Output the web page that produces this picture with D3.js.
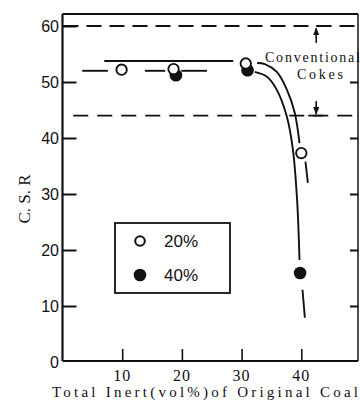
<!DOCTYPE html>
<html><head><meta charset="utf-8">
<script src="https://cdn.jsdelivr.net/npm/d3@7"></script>
<style>html,body{margin:0;padding:0;background:#fff;}svg{display:block;}</style>
</head><body>
<svg id="c" width="360" height="403"></svg>
<script>
// ---- data ----
const seriesNames = ["20%", "40%"];
const pts20 = [[9.9, 52.2], [18.6, 52.3], [30.7, 53.3], [40.0, 37.3]];
const pts40 = [[19.0, 51.2], [31.0, 52.1], [39.8, 15.9]];
// curve through 20% points (segments, gaps at markers)
const curve20 = [
  [[7.0, 53.75], [28.6, 53.75]],
  [[32.6, 53.4], [33.9, 53.2], [35.9, 51.8], [37.6, 48.6], [38.9, 44.5], [39.7, 39.1]],
  [[40.7, 35.8], [41.1, 32.0]]
];
// curve through 40% points
const curve40 = [
  [[3.3, 52.0], [7.6, 52.0]],
  [[13.8, 52.0], [17.2, 52.0]],
  [[19.9, 52.0], [24.2, 52.0]],
  [[32.2, 51.8], [34.3, 50.9], [35.9, 48.6], [37.6, 43.75], [38.6, 37.9], [39.3, 28.9], [39.7, 18.2]],
  [[40.2, 12.9], [40.6, 7.9]]
];
const conventionalBand = [44, 60];
const xTicks = [10, 20, 30, 40];
const yTicks = [0, 10, 20, 30, 40, 50, 60];
const yLabel = "C. S. R";
const xLabel = "Total  Inert(vol%)of Original Coal";
const annot = ["Conventional", "Cokes"];

// ---- layout ----
const svg = d3.select("#c");
const X0 = 62.5, X1 = 358, Y0 = 361, Y1 = 14;
const x = d3.scaleLinear().domain([0, 49.5]).range([X0, X1]);
const y = d3.scaleLinear().domain([0, 60]).range([362, 26]);
const ink = "#111";

// frame
svg.append("line").attr("x1", X0).attr("x2", X0).attr("y1", Y1).attr("y2", Y0).attr("stroke", ink).attr("stroke-width", 2.2);
svg.append("line").attr("x1", X0).attr("x2", X1).attr("y1", Y0).attr("y2", Y0).attr("stroke", ink).attr("stroke-width", 1.8);
svg.append("line").attr("x1", X0).attr("x2", X1).attr("y1", Y1).attr("y2", Y1).attr("stroke", ink).attr("stroke-width", 1.8);
svg.append("line").attr("x1", X1).attr("x2", X1).attr("y1", Y1).attr("y2", Y0).attr("stroke", ink).attr("stroke-width", 1.5);

// left axis
const yAx = svg.append("g").attr("transform", `translate(${X0},0)`)
  .call(d3.axisRight(y).tickValues(yTicks.filter(d => d > 0)).tickSize(14).tickFormat(""));
yAx.select(".domain").remove();
yAx.selectAll("line").attr("stroke", ink).attr("stroke-width", 2);
svg.append("g").selectAll("text").data(yTicks).join("text")
  .attr("x", 59).attr("y", d => y(d)).attr("dy", "0.36em")
  .attr("text-anchor", "end").attr("font-family", "Liberation Sans, Arial, sans-serif")
  .attr("font-size", 16).attr("fill", ink).text(d => d);

// right axis ticks
const yAxR = svg.append("g").attr("transform", `translate(${X1},0)`)
  .call(d3.axisLeft(y).tickValues([10, 20, 30, 40, 50]).tickSize(8).tickFormat(""));
yAxR.select(".domain").remove();
yAxR.selectAll("line").attr("stroke", ink).attr("stroke-width", 2);

// bottom axis ticks (pointing up)
const xAx = svg.append("g").attr("transform", `translate(0,${Y0})`)
  .call(d3.axisTop(x).tickValues(xTicks).tickSize(12).tickFormat(""));
xAx.select(".domain").remove();
xAx.selectAll("line").attr("stroke", ink).attr("stroke-width", 1.6);
svg.append("g").selectAll("text").data(xTicks).join("text")
  .attr("x", d => x(d)).attr("y", 381).attr("text-anchor", "middle")
  .attr("font-family", "Liberation Serif, Times New Roman, serif")
  .attr("font-size", 16).attr("letter-spacing", 1).attr("fill", ink).text(d => d);

// axis labels
svg.append("text").attr("transform", "translate(30,199) rotate(-90)")
  .attr("text-anchor", "middle").attr("font-family", "Liberation Serif, serif")
  .attr("font-size", 17).attr("fill", ink).text(yLabel);
svg.append("text").attr("x", 52).attr("y", 397)
  .attr("font-family", "Liberation Serif, serif").attr("font-size", 15)
  .attr("textLength", 306).attr("lengthAdjust", "spacing").attr("fill", ink).text(xLabel);

// conventional coke band (dashed lines)
svg.append("line").attr("x1", X0).attr("x2", X1).attr("y1", y(conventionalBand[1])).attr("y2", y(conventionalBand[1]))
  .attr("stroke", ink).attr("stroke-width", 1.8).attr("stroke-dasharray", "15,8").attr("stroke-dashoffset", -1);
svg.append("line").attr("x1", x(1.8)).attr("x2", X1).attr("y1", y(conventionalBand[0])).attr("y2", y(conventionalBand[0]))
  .attr("stroke", ink).attr("stroke-width", 1.8).attr("stroke-dasharray", "15,9");

// bracket arrows
const ax = x(42.5);
const defs = svg.append("defs");
defs.append("marker").attr("id", "ah").attr("viewBox", "0 0 10 10").attr("refX", 9).attr("refY", 5)
  .attr("markerWidth", 5).attr("markerHeight", 6).attr("orient", "auto-start-reverse")
  .append("path").attr("d", "M0,1L10,5L0,9z").attr("fill", ink);
svg.append("line").attr("x1", ax).attr("x2", ax).attr("y1", y(57.0)).attr("y2", y(59.6))
  .attr("stroke", ink).attr("stroke-width", 1.6).attr("marker-end", "url(#ah)");
svg.append("line").attr("x1", ax).attr("x2", ax).attr("y1", y(46.6)).attr("y2", y(44.3))
  .attr("stroke", ink).attr("stroke-width", 1.6).attr("marker-end", "url(#ah)");
svg.append("line").attr("x1", ax - 8).attr("x2", ax + 7).attr("y1", y(44)).attr("y2", y(44))
  .attr("stroke", ink).attr("stroke-width", 1.8);
svg.append("line").attr("x1", ax).attr("x2", ax + 15).attr("y1", y(60)).attr("y2", y(60))
  .attr("stroke", ink).attr("stroke-width", 1.8);

svg.append("text").attr("x", 265).attr("y", 62).attr("font-family", "Liberation Serif, serif")
  .attr("font-size", 14).attr("textLength", 95).attr("lengthAdjust", "spacing").attr("fill", ink).text(annot[0]);
svg.append("text").attr("x", 297).attr("y", 78.5).attr("font-family", "Liberation Serif, serif")
  .attr("font-size", 14).attr("textLength", 46).attr("lengthAdjust", "spacing").attr("fill", ink).text(annot[1]);

// curves
const lineGen = d3.line().x(d => x(d[0])).y(d => y(d[1])).curve(d3.curveCatmullRom.alpha(0.5));
svg.append("g").selectAll("path").data(curve20.concat(curve40)).join("path")
  .attr("d", lineGen).attr("fill", "none").attr("stroke", ink).attr("stroke-width", 1.9);

// markers
svg.append("g").selectAll("circle").data(pts40).join("circle")
  .attr("cx", d => x(d[0])).attr("cy", d => y(d[1])).attr("r", 6.3).attr("fill", ink);
svg.append("g").selectAll("circle").data(pts20).join("circle")
  .attr("cx", d => x(d[0])).attr("cy", d => y(d[1])).attr("r", 5.2)
  .attr("fill", "#fff").attr("stroke", ink).attr("stroke-width", 1.9);

// legend
const lg = svg.append("g");
lg.append("rect").attr("x", 115).attr("y", 223).attr("width", 115).attr("height", 70)
  .attr("fill", "none").attr("stroke", ink).attr("stroke-width", 1.8);
lg.append("circle").attr("cx", 140).attr("cy", 241).attr("r", 4.8).attr("fill", "#fff").attr("stroke", ink).attr("stroke-width", 2);
lg.append("circle").attr("cx", 140).attr("cy", 275).attr("r", 6.3).attr("fill", ink);
lg.selectAll("text").data(seriesNames).join("text")
  .attr("x", 164).attr("y", (d, i) => 247 + i * 34)
  .attr("font-family", "Liberation Sans, Arial, sans-serif").attr("font-size", 17).attr("fill", ink).text(d => d);
</script>
</body></html>
